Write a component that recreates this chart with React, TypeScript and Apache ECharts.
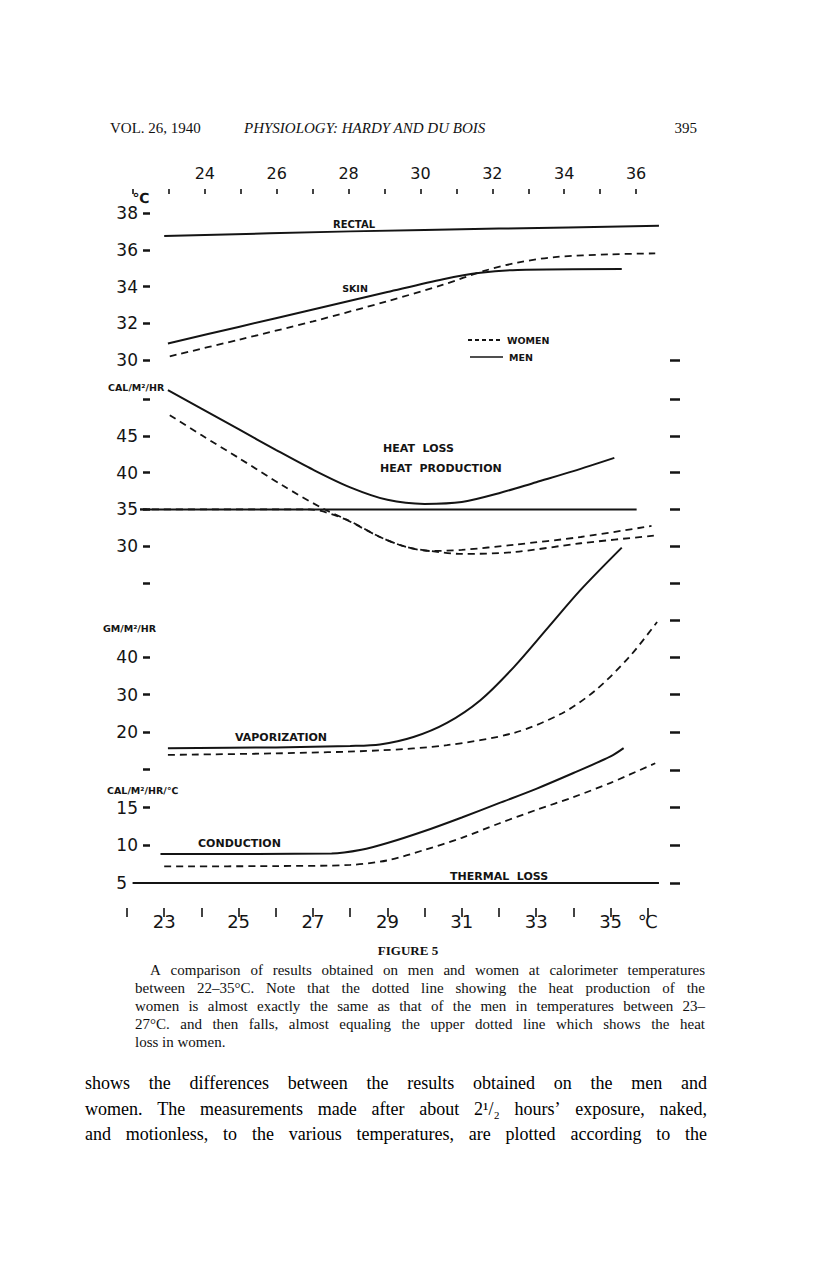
import React, { useEffect, useRef } from "react";
import * as echarts from "echarts";

// ---------------- data (temperature of calorimeter, value) ----------------
const rulerTicks = [22, 23, 24, 25, 26, 27, 28, 29, 30, 31, 32, 33, 34, 35, 36];
const topLabels = [24, 26, 28, 30, 32, 34, 36];
const bottomLabels = [23, 25, 27, 29, 31, 33, 35, 36];

const tempTicks = [30, 32, 34, 36, 38];
const tempRightTicks = [30];
const heatTicks = [25, 30, 35, 40, 45, 50];
const heatLabels = [30, 35, 40, 45];
const vapLeftTicks = [10, 20, 30, 40];
const vapLabels = [20, 30, 40];
const vapRightTicks = [20, 30, 40, 50];
const condLeftTicks = [10, 15];
const condLabels = [5, 10, 15];
const condRightTicks = [5, 10, 15, 20];

const rectal = [[23, 36.75], [28, 37.0], [32, 37.15], [36.3, 37.3]];
const skinMen = [[23.1, 30.9], [25, 31.8], [27, 32.75], [29, 33.7], [30.5, 34.4], [31.5, 34.75], [32.5, 34.9], [35.3, 34.95]];
const skinWomen = [[23.15, 30.2], [25, 31.1], [27, 32.1], [29, 33.2], [30.5, 34.1], [31.6, 34.85], [32.5, 35.3], [33.5, 35.6], [35, 35.75], [36.2, 35.8]];

const heatLossMen = [[23.1, 51.2], [24, 48.7], [25, 45.9], [26, 43.1], [27, 40.4], [28, 38.0], [29, 36.3], [30, 35.75], [31, 36.0], [32, 37.2], [33, 38.7], [34, 40.2], [35.1, 42.0]];
const heatProdMen = [[22.35, 35], [35.7, 35]];
const heatLossWomen = [[23.15, 47.8], [24, 45.1], [25, 42.0], [26.2, 38.2], [27.2, 35.3], [27.9, 33.6], [28.8, 31.25], [29.5, 29.9], [30.15, 29.35], [31, 29.5], [32.4, 30.2], [34.2, 31.25], [36.1, 32.75]];
const heatProdWomen = [[22.35, 35], [26.9, 35], [27.9, 33.6], [28.8, 31.25], [29.5, 29.9], [30.15, 29.35], [31, 28.95], [32.4, 29.2], [34.2, 30.4], [36.3, 31.5]];

const vapMen = [[23.1, 15.6], [26, 15.8], [28, 16.2], [28.8, 16.6], [29.7, 18.6], [30.6, 22.4], [31.5, 28.5], [32.4, 37.4], [33.3, 47.8], [34.2, 58.2], [35.3, 69.5]];
const vapWomen = [[23.1, 13.8], [26, 14.2], [28.8, 15.0], [30.6, 16.4], [32.4, 19.7], [33.7, 25.0], [34.6, 31.2], [35.5, 40.1], [36.25, 49.5]];

const condMen = [[22.9, 8.85], [27.5, 8.9], [28.3, 9.4], [29, 10.3], [30, 11.9], [31, 13.7], [32, 15.6], [33, 17.5], [34, 19.6], [35, 21.8], [35.35, 22.9]];
const condWomen = [[23, 7.2], [26, 7.25], [28, 7.4], [29, 8.0], [30, 9.4], [31, 11.0], [32, 12.9], [33, 14.7], [34, 16.4], [35, 18.3], [36.2, 20.9]];
const thermalLoss = [[22.15, 5], [36.3, 5]];

const legendItems = ["WOMEN", "MEN"];

const captionLines = [
  "A comparison of results obtained on men and women at calorimeter temperatures",
  "between 22–35°C.  Note that the dotted line showing the heat production of the",
  "women is almost exactly the same as that of the men in temperatures between 23–",
  "27°C. and then falls, almost equaling the upper dotted line which shows the heat",
  "loss in women.",
];
const bodyLines = [
  "shows the differences between the results obtained on the men and",
  "women.  The measurements made after about 2¹/₂ hours’ exposure, naked,",
  "and motionless, to the various temperatures, are plotted according to the",
];

// ---------------- helpers ----------------
const INK = "#141414";
const SANS = "DejaVu Sans";
const SERIF = "Liberation Serif";

function justified(line: string, x0: number, x1: number, y: number, font: string, justify: boolean, fill: string) {
  if (!justify) {
    return [{ type: "text", x: x0, y, silent: true, style: { text: line, font, fill, textAlign: "left", textVerticalAlign: "middle" } }];
  }
  const canvas = document.createElement("canvas");
  const ctx = canvas.getContext("2d")!;
  ctx.font = font;
  const words = line.split(/\s+/).filter((w) => w.length);
  const widths = words.map((w) => ctx.measureText(w).width);
  const total = widths.reduce((a, b) => a + b, 0);
  const gap = (x1 - x0 - total) / Math.max(1, words.length - 1);
  const out: any[] = [];
  let x = x0;
  words.forEach((w, i) => {
    out.push({ type: "text", x, y, silent: true, style: { text: w, font, fill, textAlign: "left", textVerticalAlign: "middle" } });
    x += widths[i] + gap;
  });
  return out;
}

function label(text: string, x: number, y: number, size = 11, align = "left") {
  return {
    type: "text", x, y, silent: true,
    style: { text, font: `bold ${size}px "${SANS}"`, fill: INK, textAlign: align, textVerticalAlign: "middle" },
  };
}

function leftAxis(grid: number, min: number, max: number, interval: number, ticks: number[], labels: number[], rich?: any) {
  return {
    gridIndex: grid, type: "value", min, max, interval, position: "left", offset: -23,
    axisLine: { show: false }, splitLine: { show: false },
    axisTick: { show: ticks.length > 0, length: 7, customValues: ticks, lineStyle: { color: INK, width: 2.5 } },
    axisLabel: {
      show: true, customValues: labels, margin: 12, color: INK, fontSize: 17, fontFamily: SANS,
      formatter: (v: number) => (labels.includes(v) ? (rich && v === 5 ? "{s|5}" : String(v)) : ""),
      rich: rich || undefined,
    },
  };
}
function rightAxis(grid: number, min: number, max: number, interval: number, ticks: number[]) {
  return {
    gridIndex: grid, type: "value", min, max, interval, position: "right", offset: -15,
    axisLine: { show: false }, splitLine: { show: false }, axisLabel: { show: false },
    axisTick: { show: true, length: 10, customValues: ticks, lineStyle: { color: INK, width: 2.5 } },
  };
}
function line(name: string, data: number[][], xi: number, yi: number, dashed: boolean, smooth = true) {
  return {
    type: "line", name, data, xAxisIndex: xi, yAxisIndex: yi, symbol: "none", clip: false,
    smooth: smooth ? 0.3 : false, silent: true,
    itemStyle: { color: INK },
    lineStyle: { color: INK, width: dashed ? 1.8 : 2, type: dashed ? [7, 5] : "solid" },
  };
}

function buildOption() {
  const gridBase = { left: 127, width: 558, outerBoundsMode: "none", containLabel: false };
  const hiddenX = (g: number) => ({ gridIndex: g, type: "value", min: 22, max: 37, show: false });

  const graphics: any[] = [
    // running head
    { type: "text", x: 110, y: 128, silent: true, style: { text: "VOL. 26, 1940", font: `15px "${SERIF}"`, fill: "#111", textAlign: "left", textVerticalAlign: "middle" } },
    { type: "text", x: 244, y: 128, silent: true, style: { text: "PHYSIOLOGY: HARDY AND DU BOIS", font: `italic 15px "${SERIF}"`, fill: "#111", textAlign: "left", textVerticalAlign: "middle" } },
    { type: "text", x: 697, y: 128, silent: true, style: { text: "395", font: `15px "${SERIF}"`, fill: "#111", textAlign: "right", textVerticalAlign: "middle" } },
    // unit names
    label("℃", 141, 198, 14, "center"),
    label("CAL/M²/HR", 108, 387, 9.5),
    label("GM/M²/HR", 103, 628, 9.5),
    label("CAL/M²/HR/℃", 107, 790, 9.5),
    // curve names
    label("RECTAL", 354, 224, 10, "center"),
    label("SKIN", 355, 288, 9.5, "center"),
    label("HEAT  LOSS", 383, 448, 11),
    label("HEAT  PRODUCTION", 380, 468, 11),
    label("VAPORIZATION", 235, 737, 11),
    label("CONDUCTION", 198, 843, 11),
    label("THERMAL  LOSS", 450, 876, 11),
    // key
    { type: "line", silent: true, shape: { x1: 468, y1: 340, x2: 503, y2: 340 }, style: { stroke: INK, lineWidth: 1.8, lineDash: [4, 3] } },
    { type: "line", silent: true, shape: { x1: 470, y1: 357, x2: 503, y2: 357 }, style: { stroke: INK, lineWidth: 1.6 } },
    label(legendItems[0], 507, 340, 9.5),
    label(legendItems[1], 509, 357, 9.5),
    // figure title
    { type: "text", x: 408, y: 950, silent: true, style: { text: "FIGURE 5", font: `bold 13px "${SERIF}"`, fill: "#111", textAlign: "center", textVerticalAlign: "middle" } },
  ];
  captionLines.forEach((l, i) => {
    graphics.push(...justified(l, i === 0 ? 150 : 135, 705, 970 + i * 18, `15px "${SERIF}"`, i < captionLines.length - 1, "#111"));
  });
  bodyLines.forEach((l, i) => {
    graphics.push(...justified(l, 85, 707, 1083 + i * 25.5, `18px "${SERIF}"`, true, "#000"));
  });

  return {
    animation: false,
    backgroundColor: "#ffffff",
    grid: [
      { left: 133, width: 539, top: 184, height: 10, outerBoundsMode: "none", containLabel: false },
      { ...gridBase, top: 213, height: 147 },
      { ...gridBase, top: 399, height: 184 },
      { ...gridBase, top: 583, height: 186 },
      { ...gridBase, top: 770, height: 113 },
      { ...gridBase, top: 900, height: 8 },
    ],
    xAxis: [
      {
        gridIndex: 0, type: "value", min: 22, max: 37, interval: 1, position: "top",
        axisLine: { show: false }, splitLine: { show: false },
        axisTick: { show: true, length: 5, customValues: rulerTicks, lineStyle: { color: INK, width: 1.6 } },
        axisLabel: {
          customValues: topLabels, margin: 3, color: INK, fontSize: 16, fontFamily: SANS,
          formatter: (v: number) => (topLabels.includes(v) ? String(v) : ""),
        },
      },
      hiddenX(1), hiddenX(2), hiddenX(3), hiddenX(4),
      {
        gridIndex: 5, type: "value", min: 22, max: 37, interval: 1, position: "bottom",
        axisLine: { show: false }, splitLine: { show: false },
        axisTick: { show: true, length: 9, customValues: rulerTicks, lineStyle: { color: INK, width: 1.6 } },
        axisLabel: {
          customValues: bottomLabels, margin: 4, color: INK, fontSize: 18, fontFamily: SANS,
          formatter: (v: number) => (bottomLabels.includes(v) ? (v === 36 ? "℃" : String(v)) : ""),
        },
      },
    ],
    yAxis: [
      { gridIndex: 0, type: "value", min: 0, max: 1, show: false },
      leftAxis(1, 30, 38, 2, tempTicks, tempTicks),
      rightAxis(1, 30, 38, 2, tempRightTicks),
      leftAxis(2, 25, 50, 5, heatTicks, heatLabels),
      rightAxis(2, 25, 50, 5, heatTicks),
      leftAxis(3, 10, 60, 10, vapLeftTicks, vapLabels),
      rightAxis(3, 10, 60, 10, vapRightTicks),
      leftAxis(4, 5, 20, 5, condLeftTicks, condLabels, { s: { fontSize: 17, fontFamily: SANS, color: INK, padding: [0, 11, 0, 0] } }),
      rightAxis(4, 5, 20, 5, condRightTicks),
      { gridIndex: 5, type: "value", min: 0, max: 1, show: false },
    ],
    series: [
      line("MEN", rectal, 1, 1, false),
      line("MEN", skinMen, 1, 1, false),
      line("WOMEN", skinWomen, 1, 1, true),
      line("MEN", heatLossMen, 2, 3, false),
      line("MEN", heatProdMen, 2, 3, false, false),
      line("WOMEN", heatProdWomen, 2, 3, true),
      line("WOMEN", heatLossWomen, 2, 3, true),
      line("MEN", vapMen, 3, 5, false),
      line("WOMEN", vapWomen, 3, 5, true),
      line("MEN", condMen, 4, 7, false),
      line("WOMEN", condWomen, 4, 7, true),
      line("MEN", thermalLoss, 4, 7, false, false),
    ],
    graphic: graphics,
  };
}

export default function App() {
  const ref = useRef<HTMLDivElement>(null);
  useEffect(() => {
    if (!ref.current) return;
    const chart = echarts.init(ref.current, null, { renderer: "svg" });
    chart.setOption(buildOption() as any);
    return () => chart.dispose();
  }, []);
  return (
    <div
      ref={ref}
      style={{ position: "absolute", left: 0, top: 0, width: 816, height: 1267, background: "#fff" }}
    />
  );
}
